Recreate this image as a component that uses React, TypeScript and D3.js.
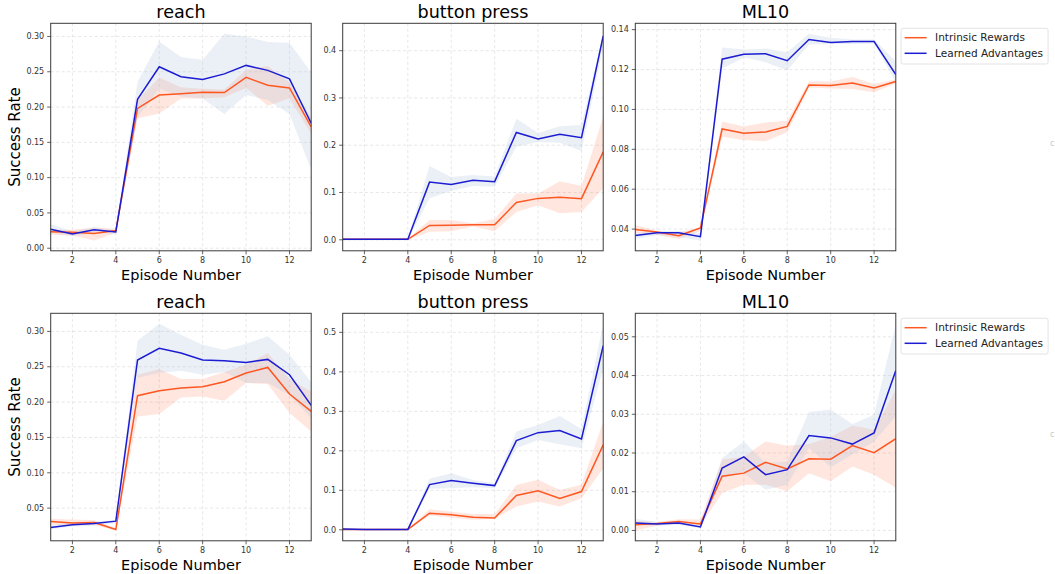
import * as React from 'react';
import * as d3 from 'd3';

const episodes = [1, 2, 3, 4, 5, 6, 7, 8, 9, 10, 11, 12, 13];
const xTicks = [2, 4, 6, 8, 10, 12];
const seriesNames = ['Intrinsic Rewards', 'Learned Advantages'];

// top row
const topReachIntr = [0.0235, 0.0226, 0.021, 0.025, 0.198, 0.217, 0.219, 0.221, 0.2205, 0.242, 0.231, 0.227, 0.172];
const topReachIntrLo = [0.019, 0.018, 0.011, 0.022, 0.184, 0.191, 0.212, 0.212, 0.214, 0.227, 0.202, 0.212, 0.162];
const topReachIntrHi = [0.026, 0.026, 0.029, 0.028, 0.21, 0.242, 0.228, 0.226, 0.225, 0.253, 0.258, 0.235, 0.184];
const topReachAdv = [0.027, 0.02, 0.026, 0.023, 0.211, 0.257, 0.243, 0.239, 0.247, 0.259, 0.252, 0.24, 0.177];
const topReachAdvLo = [0.022, 0.017, 0.022, 0.02, 0.186, 0.226, 0.215, 0.212, 0.19, 0.217, 0.21, 0.19, 0.111];
const topReachAdvHi = [0.034, 0.024, 0.03, 0.025, 0.236, 0.293, 0.271, 0.267, 0.304, 0.3, 0.292, 0.291, 0.249];

const topButtonIntr = [0.001, 0.001, 0.001, 0.001, 0.0305, 0.031, 0.032, 0.032, 0.079, 0.0876, 0.09, 0.087, 0.186];
const topButtonIntrLo = [0, 0, 0, 0, 0.017, 0.018, 0.028, 0.018, 0.059, 0.073, 0.056, 0.059, 0.109];
const topButtonIntrHi = [0.002, 0.002, 0.002, 0.002, 0.042, 0.042, 0.035, 0.044, 0.098, 0.098, 0.124, 0.114, 0.26];
const topButtonAdv = [0.001, 0.001, 0.001, 0.001, 0.122, 0.117, 0.126, 0.123, 0.227, 0.213, 0.223, 0.216, 0.431];
const topButtonAdvLo = [-0.0014, -0.001, -0.001, -0.001, 0.088, 0.103, 0.114, 0.112, 0.197, 0.207, 0.205, 0.188, 0.41];
const topButtonAdvHi = [0.003, 0.003, 0.003, 0.003, 0.156, 0.133, 0.137, 0.134, 0.256, 0.226, 0.24, 0.243, 0.436];

const topMlIntr = [0.0398, 0.0385, 0.0367, 0.0406, 0.0902, 0.088, 0.0887, 0.0915, 0.1123, 0.112, 0.1133, 0.1108, 0.114];
const topMlIntrLo = [0.038, 0.037, 0.035, 0.039, 0.0863, 0.0847, 0.084, 0.0885, 0.111, 0.1105, 0.1103, 0.1086, 0.113];
const topMlIntrHi = [0.042, 0.039, 0.038, 0.041, 0.0939, 0.0914, 0.0935, 0.0943, 0.114, 0.114, 0.1162, 0.1128, 0.115];
const topMlAdv = [0.0368, 0.0382, 0.0382, 0.0362, 0.1252, 0.1277, 0.1279, 0.1244, 0.1351, 0.1335, 0.134, 0.134, 0.1175];
const topMlAdvLo = [0.035, 0.037, 0.036, 0.0343, 0.1204, 0.126, 0.1237, 0.1195, 0.1326, 0.1328, 0.1328, 0.133, 0.1137];
const topMlAdvHi = [0.038, 0.039, 0.039, 0.038, 0.131, 0.13, 0.1305, 0.1287, 0.138, 0.136, 0.135, 0.135, 0.124];

// bottom row
const botReachIntr = [0.031, 0.029, 0.0296, 0.0197, 0.209, 0.216, 0.2199, 0.2217, 0.2288, 0.2411, 0.249, 0.2114, 0.1868];
const botReachIntrLo = [0.027, 0.025, 0.026, 0.0184, 0.1797, 0.183, 0.2066, 0.208, 0.2019, 0.227, 0.2256, 0.1845, 0.1584];
const botReachIntrHi = [0.035, 0.034, 0.033, 0.022, 0.2387, 0.247, 0.2326, 0.2326, 0.2425, 0.2528, 0.2694, 0.2326, 0.215];
const botReachAdv = [0.0225, 0.0264, 0.0282, 0.0316, 0.2595, 0.276, 0.2694, 0.2595, 0.2585, 0.2561, 0.2604, 0.2387, 0.1953];
const botReachAdvLo = [0.02, 0.024, 0.025, 0.029, 0.234, 0.241, 0.2444, 0.2387, 0.2425, 0.227, 0.227, 0.21, 0.1774];
const botReachAdvHi = [0.026, 0.029, 0.031, 0.033, 0.2868, 0.311, 0.2953, 0.281, 0.274, 0.2826, 0.293, 0.267, 0.2284];

const botButtonIntr = [0.001, 0.001, 0.001, 0.001, 0.042, 0.038, 0.032, 0.03, 0.0868, 0.0986, 0.0792, 0.0969, 0.215];
const botButtonIntrLo = [0, 0, 0, 0, 0.036, 0.031, 0.0255, 0.028, 0.059, 0.0716, 0.059, 0.08, 0.156];
const botButtonIntrHi = [0.002, 0.002, 0.003, 0.002, 0.0523, 0.046, 0.04, 0.04, 0.1138, 0.1265, 0.101, 0.114, 0.274];
const botButtonAdv = [0.002, 0.001, 0.001, 0.001, 0.1146, 0.1247, 0.118, 0.112, 0.2259, 0.246, 0.2512, 0.2301, 0.466];
const botButtonAdvLo = [-0.0016, -0.001, -0.001, -0.001, 0.1037, 0.1054, 0.108, 0.1054, 0.2066, 0.2276, 0.2167, 0.2066, 0.409];
const botButtonAdvHi = [0.004, 0.003, 0.003, 0.003, 0.129, 0.1434, 0.126, 0.118, 0.2487, 0.2655, 0.2883, 0.2554, 0.522];

const botMlIntr = [0.0015, 0.0018, 0.0023, 0.0017, 0.014, 0.0148, 0.0176, 0.0159, 0.0185, 0.0184, 0.0219, 0.0201, 0.0237];
const botMlIntrLo = [0.0, 0.0012, 0.0017, 0.0012, 0.0097, 0.0118, 0.0118, 0.0101, 0.0148, 0.0127, 0.0165, 0.0144, 0.011];
const botMlIntrHi = [0.0025, 0.0022, 0.0029, 0.0028, 0.0183, 0.019, 0.023, 0.0219, 0.0223, 0.0242, 0.0271, 0.026, 0.0364];
const botMlAdv = [0.0019, 0.0017, 0.0019, 0.0009, 0.0161, 0.019, 0.0144, 0.0157, 0.0245, 0.0239, 0.0223, 0.0252, 0.0413];
const botMlAdvLo = [0.0015, 0.0013, 0.0015, 0.0006, 0.0135, 0.0148, 0.0105, 0.0118, 0.0213, 0.0163, 0.0196, 0.023, 0.0295];
const botMlAdvHi = [0.003, 0.0022, 0.0024, 0.0015, 0.0187, 0.023, 0.0174, 0.0178, 0.0306, 0.0312, 0.0275, 0.0299, 0.0534];

// y tick labels per panel
const ticksReachTop = [0, 0.05, 0.1, 0.15, 0.2, 0.25, 0.3];
const ticksButtonTop = [0, 0.1, 0.2, 0.3, 0.4];
const ticksMlTop = [0.04, 0.06, 0.08, 0.1, 0.12, 0.14];
const ticksReachBot = [0.05, 0.1, 0.15, 0.2, 0.25, 0.3];
const ticksButtonBot = [0, 0.1, 0.2, 0.3, 0.4, 0.5];
const ticksMlBot = [0, 0.01, 0.02, 0.03, 0.04, 0.05];

const FONT = '"DejaVu Sans", sans-serif';
const ORANGE = '#ff5722';
const BLUE = '#1c1cd2';

interface Band { mean: number[]; lo: number[]; hi: number[] }

interface PanelProps {
  id: string;
  left: number;
  top: number;
  width: number;
  height: number;
  title: string;
  yTicks: number[];
  digits: number;
  intr: Band;
  adv: Band;
  yLabel?: boolean;
  legend?: boolean;
}

function Panel(props: PanelProps) {
  const { id, left, top, width, height, title, yTicks, digits, intr, adv } = props;
  const all = [...intr.lo, ...intr.hi, ...adv.lo, ...adv.hi, ...intr.mean, ...adv.mean];
  const [mn, mx] = d3.extent(all) as [number, number];
  const pad = (mx - mn) * 0.05;
  const x = d3.scaleLinear().domain([1, 13]).range([0, width]);
  const y = d3.scaleLinear().domain([mn - pad, mx + pad]).range([height, 0]);

  const line = d3.line<number>().x((_, i) => x(episodes[i])).y(d => y(d));
  const area = (b: Band) =>
    d3.area<number>()
      .x((_, i) => x(episodes[i]))
      .y0((_, i) => y(b.lo[i]))
      .y1((_, i) => y(b.hi[i]))(b.mean)!;

  const fmt = d3.format(`.${digits}f`);

  return (
    <g transform={translate(left, top)}>
      <defs>
        <clipPath id={`clip-${id}`}>
          <rect width={width} height={height} />
        </clipPath>
      </defs>
      <rect width={width} height={height} fill="#fff" />
      {/* grid */}
      {xTicks.map(t => (
        <line key={'gx' + t} x1={x(t)} x2={x(t)} y1={0} y2={height}
          stroke="#dcdcdc" strokeWidth={0.7} strokeDasharray="3,2.5" />
      ))}
      {yTicks.map(t => (
        <line key={'gy' + t} x1={0} x2={width} y1={y(t)} y2={y(t)}
          stroke="#dcdcdc" strokeWidth={0.7} strokeDasharray="3,2.5" />
      ))}
      <g clipPath={`url(#clip-${id})`}>
        <path d={area(intr)} fill={ORANGE} fillOpacity={0.15} />
        <path d={area(adv)} fill="#b0c4de" fillOpacity={0.25} />
        <path d={line(intr.mean)!} fill="none" stroke={ORANGE} strokeWidth={1.5} />
        <path d={line(adv.mean)!} fill="none" stroke={BLUE} strokeWidth={1.5} />
      </g>
      <rect width={width} height={height} fill="none" stroke="#3a3a3a" strokeWidth={1} />
      {/* x ticks */}
      {xTicks.map(t => (
        <g key={'tx' + t} transform={translate(x(t), height)}>
          <line y2={3.5} stroke="#3a3a3a" strokeWidth={0.8} />
          <text y={12.5} textAnchor="middle" fontSize={8} fill="#333" fontFamily={FONT}>{t}</text>
        </g>
      ))}
      {/* y ticks */}
      {yTicks.map(t => (
        <g key={'ty' + t} transform={translate(0, y(t))}>
          <line x2={-3.5} stroke="#3a3a3a" strokeWidth={0.8} />
          <text x={-6.5} dy="0.34em" textAnchor="end" fontSize={8} fill="#333" fontFamily={FONT}>{fmt(t)}</text>
        </g>
      ))}
      <text x={width / 2} y={-5.3} textAnchor="middle" fontSize={17.6} fill="#000" fontFamily={FONT}>{title}</text>
      <text x={width / 2} y={height + 29} textAnchor="middle" fontSize={14.5} fill="#000" fontFamily={FONT}>Episode Number</text>
      {props.yLabel && (
        <text transform={`translate(-30.5, ${height / 2}) rotate(-90)`} textAnchor="middle"
          fontSize={15} fill="#000" fontFamily={FONT}>Success Rate</text>
      )}
      {props.legend && (
        <g transform={translate(width + 5.3, 5)}>
          <rect width={147} height={35.7} rx={2} fill="#fff" stroke="#dcdcdc" strokeWidth={0.8} />
          {seriesNames.map((name, i) => (
            <g key={name} transform={translate(0, 9.4 + i * 15.6)}>
              <line x1={3.5} x2={25.5} stroke={i === 0 ? ORANGE : BLUE} strokeWidth={1.5} />
              <text x={34} dy="0.35em" fontSize={10.5} fill="#222" fontFamily={FONT}>{name}</text>
            </g>
          ))}
        </g>
      )}
    </g>
  );
}

function band(mean: number[], lo: number[], hi: number[]): Band {
  return { mean, lo, hi };
}

export default function App() {
  const cols = [50.7, 342.7, 635.3];
  const w = 260.5;
  const rows = [23.3, 313.3];
  const h = 227.5;
  return (
    <svg width={1055} height={574} style={{ position: 'absolute', left: 0, top: 0, background: '#fff' }}>
      <rect width={1055} height={574} fill="#fff" />
      <Panel id="a" left={cols[0]} top={rows[0]} width={w} height={h} title="reach" yTicks={ticksReachTop} digits={2}
        intr={band(topReachIntr, topReachIntrLo, topReachIntrHi)} adv={band(topReachAdv, topReachAdvLo, topReachAdvHi)} yLabel />
      <Panel id="b" left={cols[1]} top={rows[0]} width={w} height={h} title="button press" yTicks={ticksButtonTop} digits={1}
        intr={band(topButtonIntr, topButtonIntrLo, topButtonIntrHi)} adv={band(topButtonAdv, topButtonAdvLo, topButtonAdvHi)} />
      <Panel id="c" left={cols[2]} top={rows[0]} width={w} height={h} title="ML10" yTicks={ticksMlTop} digits={2}
        intr={band(topMlIntr, topMlIntrLo, topMlIntrHi)} adv={band(topMlAdv, topMlAdvLo, topMlAdvHi)} legend />
      <Panel id="d" left={cols[0]} top={rows[1]} width={w} height={h} title="reach" yTicks={ticksReachBot} digits={2}
        intr={band(botReachIntr, botReachIntrLo, botReachIntrHi)} adv={band(botReachAdv, botReachAdvLo, botReachAdvHi)} yLabel />
      <Panel id="e" left={cols[1]} top={rows[1]} width={w} height={h} title="button press" yTicks={ticksButtonBot} digits={1}
        intr={band(botButtonIntr, botButtonIntrLo, botButtonIntrHi)} adv={band(botButtonAdv, botButtonAdvLo, botButtonAdvHi)} />
      <Panel id="f" left={cols[2]} top={rows[1]} width={w} height={h} title="ML10" yTicks={ticksMlBot} digits={2}
        intr={band(botMlIntr, botMlIntrLo, botMlIntrHi)} adv={band(botMlAdv, botMlAdvLo, botMlAdvHi)} legend />
      {/* clipped glyphs at the right edge of the original figure */}
      <text x={1050} y={146} fontSize={8} fill="#c8c8c8" fontFamily={FONT}>c</text>
      <text x={1050} y={437} fontSize={8} fill="#c8c8c8" fontFamily={FONT}>c</text>
    </svg>
  );
}

function translate(x: number, y: number) {
  return `translate(${x}, ${y})`;
}
